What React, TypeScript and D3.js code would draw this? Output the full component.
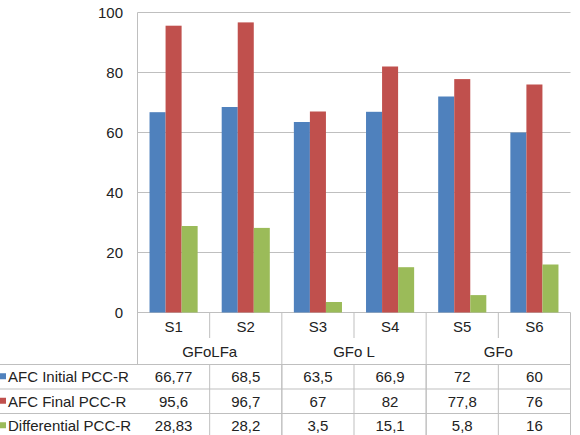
import * as d3 from "d3";

const categories = ["S1", "S2", "S3", "S4", "S5", "S6"];
const groups = [
  { name: "GFoLFa", members: ["S1", "S2"] },
  { name: "GFo L", members: ["S3", "S4"] },
  { name: "GFo", members: ["S5", "S6"] },
];
const seriesNames = ["AFC Initial PCC-R", "AFC Final PCC-R", "Differential PCC-R"];
const initialValues = [66.77, 68.5, 63.5, 66.9, 72, 60];
const finalValues = [95.6, 96.7, 67, 82, 77.8, 76];
const diffValues = [28.83, 28.2, 3.5, 15.1, 5.8, 16];
const yTicks = [0, 20, 40, 60, 80, 100];
const colors = ["#4f81bd", "#c0504d", "#9bbb59"];

const W = 580;
const H = 435;
const FONT = "'Liberation Sans', Arial, sans-serif";
const GRID = "#bfbfbf";
const TEXT = "#222";

const series = seriesNames.map((name, i) => ({
  name,
  color: colors[i],
  values: [initialValues, finalValues, diffValues][i],
}));

const fmt = (v: number) => String(v).replace(".", ",");

export default function App() {
  const x = d3.scaleBand<string>().domain(categories).range([137.5, 570.5]).padding(0);
  const inner = d3
    .scaleBand<string>()
    .domain(seriesNames)
    .range([0, x.bandwidth()])
    .paddingInner(0)
    .paddingOuter(0.75);
  const y = d3.scaleLinear().domain([0, 100]).range([312.5, 12.5]);

  const left = x.range()[0];
  const right = x.range()[1];
  const zeroY = y(0);
  const catRowY = 338; // bottom of the S-label cell
  const groupRowBottom = 364.5;
  const rowH = 24.5;
  const rowTops = series.map((_, i) => groupRowBottom + i * rowH);

  return (
    <svg
      width={W}
      height={H}
      style={{ position: "absolute", left: 0, top: 0, background: "#fff" }}
      fontFamily={FONT}
    >
      {/* grid */}
      {yTicks.map((t) => (
        <g key={t}>
          <line x1={left} x2={right} y1={y(t)} y2={y(t)} stroke={GRID} strokeWidth={1} />
          <text
            x={123}
            y={y(t)}
            textAnchor="end"
            dominantBaseline="central"
            fontSize={15}
            fill={TEXT}
          >
            {t}
          </text>
        </g>
      ))}

      {/* bars */}
      {series.map((s) =>
        s.values.map((v, i) => (
          <rect
            key={s.name + i}
            x={x(categories[i])! + inner(s.name)!}
            y={y(v)}
            width={inner.bandwidth()}
            height={zeroY - y(v)}
            fill={s.color}
          />
        ))
      )}

      {/* left axis line, continues into table header */}
      <line x1={left} x2={left} y1={y(100)} y2={groupRowBottom} stroke={GRID} />
      <line x1={right} x2={right} y1={zeroY} y2={H} stroke={GRID} />

      {/* category dividers inside groups (short) */}
      {categories.slice(1).map((c) => {
        const xx = x(c)!;
        const isGroupEdge = groups.some((g) => g.members[0] === c);
        return (
          <line
            key={"div" + c}
            x1={xx}
            x2={xx}
            y1={zeroY}
            y2={isGroupEdge ? H : catRowY}
            stroke={GRID}
          />
        );
      })}
      {/* column dividers in data rows */}
      {categories.slice(1).map((c) => (
        <line key={"dd" + c} x1={x(c)!} x2={x(c)!} y1={groupRowBottom} y2={H} stroke={GRID} />
      ))}

      {/* category labels */}
      {categories.map((c) => (
        <text
          key={"lbl" + c}
          x={x(c)! + x.bandwidth() / 2}
          y={326}
          textAnchor="middle"
          dominantBaseline="central"
          fontSize={15}
          fill={TEXT}
        >
          {c}
        </text>
      ))}

      {/* group labels */}
      {groups.map((g) => {
        const x0 = x(g.members[0])!;
        const x1 = x(g.members[g.members.length - 1])! + x.bandwidth();
        return (
          <text
            key={g.name}
            x={(x0 + x1) / 2}
            y={351.5}
            textAnchor="middle"
            dominantBaseline="central"
            fontSize={15}
            fill={TEXT}
          >
            {g.name}
          </text>
        );
      })}

      {/* data table rows */}
      {series.map((s, si) => {
        const top = rowTops[si];
        const cy = top + rowH / 2;
        return (
          <g key={"row" + s.name}>
            <line x1={0} x2={right} y1={top} y2={top} stroke={GRID} />
            <rect x={0} y={cy - 3.5} width={6} height={6} fill={s.color} />
            <text x={8} y={cy} dominantBaseline="central" fontSize={15} fill={TEXT}>
              {s.name}
            </text>
            {s.values.map((v, i) => (
              <text
                key={i}
                x={x(categories[i])! + x.bandwidth() / 2}
                y={cy}
                textAnchor="middle"
                dominantBaseline="central"
                fontSize={15}
                fill={TEXT}
              >
                {fmt(v)}
              </text>
            ))}
          </g>
        );
      })}
    </svg>
  );
}
